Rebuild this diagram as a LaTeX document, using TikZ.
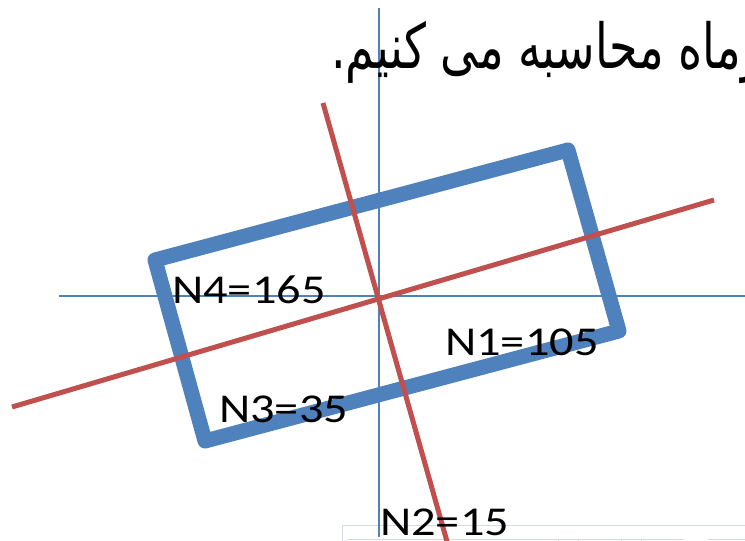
\documentclass[tikz,border=0pt]{standalone}
\usepackage{fontspec}
\setmainfont{Carlito}
\newfontfamily\arabicfont[Script=Arabic]{DejaVu Sans}
\TeXXeTstate=1
\definecolor{ofblue}{HTML}{4F81BD}
\definecolor{ofred}{HTML}{C0504D}
\definecolor{faint}{HTML}{D3DAE5}
\newcommand{\widetext}[1]{\scalebox{1.18}[1]{#1}}
\newcommand{\talltext}[1]{\scalebox{1}[1.35]{#1}}
\begin{document}
\begin{tikzpicture}[x=1pt,y=-1pt,
  axis/.style={draw=ofblue,line width=2pt},
  frame/.style={draw=ofblue,line width=15pt,line join=round},
  redline/.style={draw=ofred,line width=5pt},
  lbl/.style={font=\fontsize{41}{44}\selectfont,inner sep=0pt,anchor=base west},
  faintline/.style={draw=faint,line width=1pt}]
\useasboundingbox (0,0) rectangle (745,541);
% faint table outline
\coordinate (t1) at (342,541);
\coordinate (t2) at (342,525.7);
\coordinate (t3) at (745,525.7);
\draw[faintline] (t1) -- (t2) -- (t3);
\coordinate (b1) at (347,539.5);
\coordinate (b2) at (683,539.5);
\coordinate (b3) at (708,539.5);
\coordinate (b4) at (745,539.5);
\draw[faintline] (b1) -- (b2) (b3) -- (b4);
\foreach \x in {558,578,621,641}{\draw[faintline] (\x,539.5) -- (\x,541);}
% axes
\coordinate (vT) at (378.7,8);
\coordinate (vB) at (378.7,537);
\coordinate (hL) at (59,295.7);
\coordinate (hR) at (745,295.7);
\draw[axis] (vT) -- (vB);
\draw[axis] (hL) -- (hR);
% rotated rectangle
\coordinate (TL) at (155,260);
\coordinate (TR) at (568,150);
\coordinate (BR) at (619,331);
\coordinate (BL) at (205,441);
\draw[frame] (TL) -- (TR) -- (BR) -- (BL) -- cycle;
% red lines
\coordinate (r1a) at (12,407);
\coordinate (r1b) at (714,200);
\coordinate (r2a) at (323,103);
\coordinate (r2b) at (448,545);
\draw[redline] (r1a) -- (r1b);
\draw[redline] (r2a) -- (r2b);
% labels
\node[lbl] (n4) at (172,303) {\widetext{N4=165}};
\node[lbl] (n1) at (445,355) {\widetext{N1=105}};
\node[lbl] (n3) at (219,422) {\widetext{N3=35}};
\node[lbl] (n2) at (380,535) {\widetext{N2=15}};
% title
\node[inner sep=0pt,anchor=base west,font=\arabicfont\fontsize{46}{54}\selectfont] (title) at (331,68) {\talltext{\beginR رماه محاسبه می کنیم.\endR}};
\end{tikzpicture}
\end{document}
